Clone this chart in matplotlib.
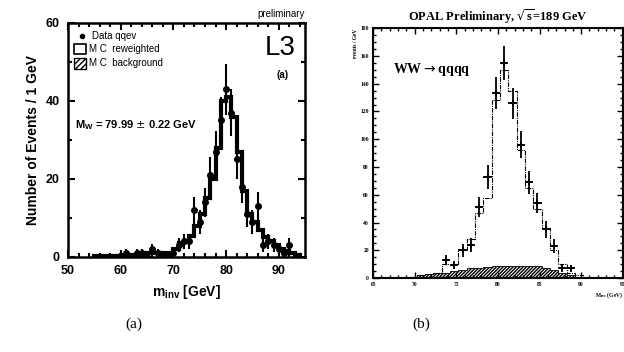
import numpy as np
import matplotlib.pyplot as plt
from matplotlib.ticker import MultipleLocator

# ---- panel (a): L3 qqev
a_x = [61, 62, 63, 64, 65, 66, 67, 68, 69, 70, 71, 72, 73, 74, 75, 76,
       77, 78, 79, 80, 81, 82, 83, 84, 85, 86, 87, 88, 89, 90, 91, 92]
a_y = [1, 0, 1, 1, 0, 2, 1, 0, 0, 1, 3, 4, 4, 12, 9, 14,
       21, 27, 35, 43, 37, 25, 18, 11, 9, 13, 3, 4, 3, 2, 1, 3]
a_mc_edges = [55, 60, 65, 70, 71, 72, 73, 74, 75, 76, 77, 78, 79, 80, 81,
              82, 83, 84, 85, 86, 87, 88, 89, 90, 91, 92, 93, 94]
a_mc = [0.3, 0.6, 1, 2, 3.5, 4, 5.5, 8, 11, 15, 20, 28, 40, 41, 36,
        27, 17, 11, 9, 7, 5, 4, 3, 2, 1.5, 1, 0.5]

# ---- panel (b): OPAL qqqq
b_x = [73.75, 74.75, 75.75, 76.75, 77.75, 78.75, 79.75, 80.75, 81.75, 82.75,
       83.75, 84.75, 85.75, 86.75, 87.75, 88.75]
b_y = [13, 9.5, 20, 24, 51, 73, 133, 155, 126, 96, 69, 54, 35, 23, 7, 7]
b_edges = np.arange(69.25, 90.3, 1)
b_mc = [1, 2, 3, 4, 10, 10, 20, 28, 47, 58, 128, 150, 135, 92, 65, 50,
        36, 20, 10, 4, 2]
b_bkg = [1, 2, 3, 4, 4, 5, 6, 7, 7.5, 8, 8.5, 8.5, 8.5, 9, 9, 8.5,
         7.5, 6, 4, 2, 0.5]

fig = plt.figure(figsize=(6.24, 3.52), dpi=100)
sans = ['Liberation Sans', 'DejaVu Sans']
serif = ['Liberation Serif', 'DejaVu Serif']

# config panel (a)
ax = fig.add_axes([0.109, 0.27, 0.38, 0.665])
ax.stairs(a_mc, a_mc_edges, color='k', linewidth=3)
ax.errorbar(a_x, a_y, yerr=np.sqrt(np.maximum(a_y, 1)), fmt='o', color='k',
            ms=4, elinewidth=1.5, capsize=0)
ax.set_xlim(50, 95)
ax.set_ylim(0, 60)
ax.xaxis.set_major_locator(MultipleLocator(10))
ax.xaxis.set_minor_locator(MultipleLocator(2))
ax.yaxis.set_major_locator(MultipleLocator(20))
ax.yaxis.set_minor_locator(MultipleLocator(10))
ax.tick_params(which='both', direction='in', top=True, right=True, width=1.5)
ax.tick_params(which='major', length=5, labelsize=9, pad=6)
ax.tick_params(which='minor', length=3)
for s in ax.spines.values():
    s.set_linewidth(1.8)
for lab in ax.get_xticklabels() + ax.get_yticklabels():
    lab.set_family(sans)
    lab.set_fontweight('bold')
ax.set_xlabel(r'm$_{\mathregular{inv}}$ [GeV]', family=sans, fontsize=10, fontweight='bold')
ax.set_ylabel('Number of Events / 1 GeV', family=sans, fontsize=10, fontweight='bold')
ax.text(1.0, 1.015, 'preliminary', transform=ax.transAxes, ha='right', va='bottom',
        family=sans, fontsize=7)
ax.text(0.96, 0.95, 'L3', transform=ax.transAxes, ha='right', va='top',
        family=sans, fontsize=20)
ax.text(0.93, 0.80, '(a)', transform=ax.transAxes, ha='right', va='top',
        family=sans, fontsize=7, fontweight='bold')
ax.plot([0.06], [0.945], 'o', color='k', ms=3, transform=ax.transAxes)
ax.text(0.1, 0.945, 'Data qqev', transform=ax.transAxes, va='center',
        family=sans, fontsize=7)
ax.add_patch(plt.Rectangle((0.025, 0.865), 0.05, 0.045, transform=ax.transAxes,
                           fill=False, lw=1.2, color='k'))
ax.text(0.09, 0.887, 'M C  reweighted', transform=ax.transAxes, va='center',
        family=sans, fontsize=7)
ax.add_patch(plt.Rectangle((0.025, 0.805), 0.05, 0.045, transform=ax.transAxes,
                           fill=False, lw=1.0, color='k', hatch='//////'))
ax.text(0.09, 0.827, 'M C  background', transform=ax.transAxes, va='center',
        family=sans, fontsize=7)
ax.text(0.03, 0.565, r'M$_\mathregular{W}$ = 79.99 $\pm$ 0.22 GeV', transform=ax.transAxes,
        va='center', family=sans, fontsize=8, fontweight='bold')

# config panel (b)
bx = fig.add_axes([0.598, 0.21, 0.40, 0.71])
bx.stairs(b_bkg, b_edges, fill=True, facecolor='white', edgecolor='k',
          hatch='//////////', linewidth=0.6)
bx.stairs(b_mc, b_edges, color='k', linewidth=0.8, linestyle=(0, (4, 1, 1, 1)))
bx.errorbar(b_x, b_y, xerr=0.5, yerr=np.sqrt(b_y), fmt='+', color='k', ms=5,
            elinewidth=1.3, capsize=0, mew=1.3)
bx.set_xlim(65, 95)
bx.set_ylim(0, 180)
bx.xaxis.set_major_locator(MultipleLocator(5))
bx.xaxis.set_minor_locator(MultipleLocator(1))
bx.yaxis.set_major_locator(MultipleLocator(20))
bx.yaxis.set_minor_locator(MultipleLocator(5))
bx.tick_params(which='both', direction='in', top=True, right=True, width=1.0)
bx.tick_params(which='major', length=4, labelsize=4, pad=3)
bx.tick_params(which='minor', length=2)
for s in bx.spines.values():
    s.set_linewidth(1.5)
for lab in bx.get_xticklabels() + bx.get_yticklabels():
    lab.set_family(serif)
    lab.set_fontweight('bold')
bx.set_xlabel(r'M$_{\mathregular{rec}}$ (GeV)', family=serif, fontsize=4, fontweight='bold',
              loc='right', labelpad=2)
bx.set_ylabel('events / GeV', family=serif, fontsize=4, fontweight='bold',
              loc='top', labelpad=2)
bx.set_title(r'OPAL Preliminary, $\sqrt{\mathregular{s}}$=189 GeV', family=serif,
             fontsize=9, fontweight='bold', pad=5)
bx.text(0.08, 0.82, r'WW$\rightarrow$qqqq', transform=bx.transAxes, family=serif,
        fontsize=10, fontweight='bold')

fig.text(0.215, 0.07, '(a)', family=serif, fontsize=11, ha='center')
fig.text(0.675, 0.07, '(b)', family=serif, fontsize=11, ha='center')

plt.savefig('out.png', dpi=100)
